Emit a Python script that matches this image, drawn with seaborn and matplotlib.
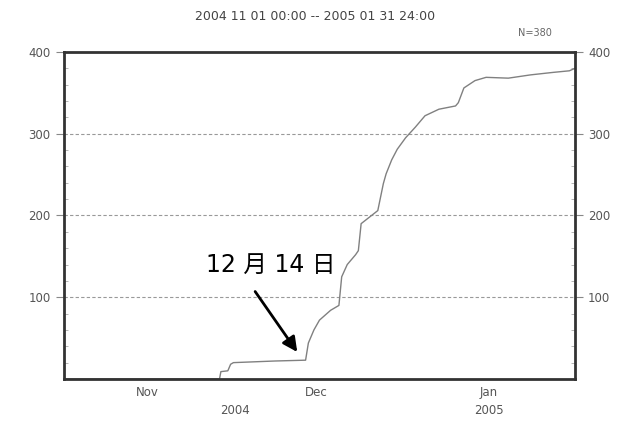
import matplotlib
matplotlib.use("Agg")
import matplotlib.pyplot as plt
import matplotlib.dates as mdates
import seaborn as sns
import pandas as pd

# cumulative counts
times = [
    "2004-11-01 00:00", "2004-11-29 00:00", "2004-11-29 06:00", "2004-11-30 12:00",
    "2004-12-01 00:00", "2004-12-01 12:00", "2004-12-09 00:00", "2004-12-14 12:00",
    "2004-12-15 00:00", "2004-12-16 00:00", "2004-12-17 00:00", "2004-12-19 00:00",
    "2004-12-20 12:00", "2004-12-21 00:00", "2004-12-22 00:00", "2004-12-23 12:00",
    "2004-12-24 00:00", "2004-12-24 12:00", "2004-12-26 00:00", "2004-12-27 12:00",
    "2004-12-28 12:00", "2004-12-29 00:00", "2004-12-30 00:00", "2004-12-31 00:00",
    "2005-01-01 12:00", "2005-01-03 06:00", "2005-01-05 00:00", "2005-01-07 12:00",
    "2005-01-10 12:00", "2005-01-11 00:00", "2005-01-12 00:00", "2005-01-14 00:00",
    "2005-01-16 00:00", "2005-01-20 00:00", "2005-01-24 00:00", "2005-01-28 00:00",
    "2005-01-31 00:00", "2005-02-01 00:00",
]
counts = [
    0, 0, 9, 10,
    18, 20, 22, 23,
    44, 60, 72, 84,
    90, 125, 140, 152,
    157, 190, 198, 206,
    239, 251, 268, 281,
    295, 308, 322, 330,
    334, 338, 356, 365,
    369, 368, 372, 375,
    377, 380,
]
yticks = [100, 200, 300, 400]
month_labels = ["Nov", "Dec", "Jan"]
year_labels = ["2004", "2005"]

df = pd.DataFrame({"time": pd.to_datetime(times), "count": counts})

sns.set_style("white")
plt.rcParams["font.family"] = ["DejaVu Sans", "Noto Sans CJK JP"]

fig = plt.figure(figsize=(6.31, 4.21), dpi=100)
ax = fig.add_axes([0.1014, 0.0998, 0.8098, 0.7767])

sns.lineplot(data=df, x="time", y="count", ax=ax, color="#808080", linewidth=1.0)

ax.set_xlim(pd.Timestamp("2004-11-01"), pd.Timestamp("2005-02-01"))
ax.set_ylim(0, 400)
ax.set_xlabel("")
ax.set_ylabel("")

for v in [100, 200, 300]:
    ax.axhline(v, color="#999999", linestyle=(0, (3, 2)), linewidth=0.8, zorder=0)

for s in ax.spines.values():
    s.set_color("#333333")
    s.set_linewidth(2)

gray = "#555555"
ax.set_yticks(yticks)
ax.set_yticklabels([str(v) for v in yticks])
ax.tick_params(axis="y", which="major", direction="out", length=6, width=0.8,
               colors="#888888", labelcolor=gray, labelsize=8.5,
               left=True, right=True, labelleft=True, labelright=True)
ax.set_yticks(range(20, 400, 20), minor=True)
ax.tick_params(axis="y", which="minor", direction="in", length=3, width=0.6,
               colors="#aaaaaa", left=True, right=True)

# month boundaries as major ticks, month names centred as minor labels
ax.xaxis.set_major_locator(mdates.MonthLocator())
ax.xaxis.set_major_formatter(plt.NullFormatter())
ax.tick_params(axis="x", which="major", direction="out", length=22, width=0.8,
               colors="#888888")
mids = [pd.Timestamp("2004-11-16"), pd.Timestamp("2004-12-16 12:00"),
        pd.Timestamp("2005-01-16 12:00")]
ax.set_xticks(mids, minor=True)
ax.set_xticklabels(month_labels, minor=True)
ax.tick_params(axis="x", which="minor", length=0, pad=5, labelsize=8.5,
               labelcolor=gray)

ax.text(pd.Timestamp("2004-12-01 18:00"), -39, year_labels[0], ha="center",
        va="center", fontsize=8.5, color=gray)
ax.text(pd.Timestamp("2005-01-16 12:00"), -39, year_labels[1], ha="center",
        va="center", fontsize=8.5, color=gray)

fig.text(0.5, 0.96, "2004 11 01 00:00 -- 2005 01 31 24:00", ha="center",
         va="center", fontsize=9, color="#444444")
fig.text(0.848, 0.921, "N=380", ha="center", va="center", fontsize=7,
         color="#666666")

ax.text(pd.Timestamp("2004-12-08 06:00"), 139, "12 月 14 日", fontsize=17,
        color="black", ha="center", va="center",
        family=["DejaVu Sans", "Noto Sans CJK JP"])
ax.annotate("", xy=(pd.Timestamp("2004-12-13 00:00"), 33),
            xytext=(pd.Timestamp("2004-12-05 10:00"), 107),
            arrowprops=dict(arrowstyle="-|>", color="black", lw=2,
                            mutation_scale=22, shrinkA=0, shrinkB=0))

fig.savefig("out.png", dpi=100)
